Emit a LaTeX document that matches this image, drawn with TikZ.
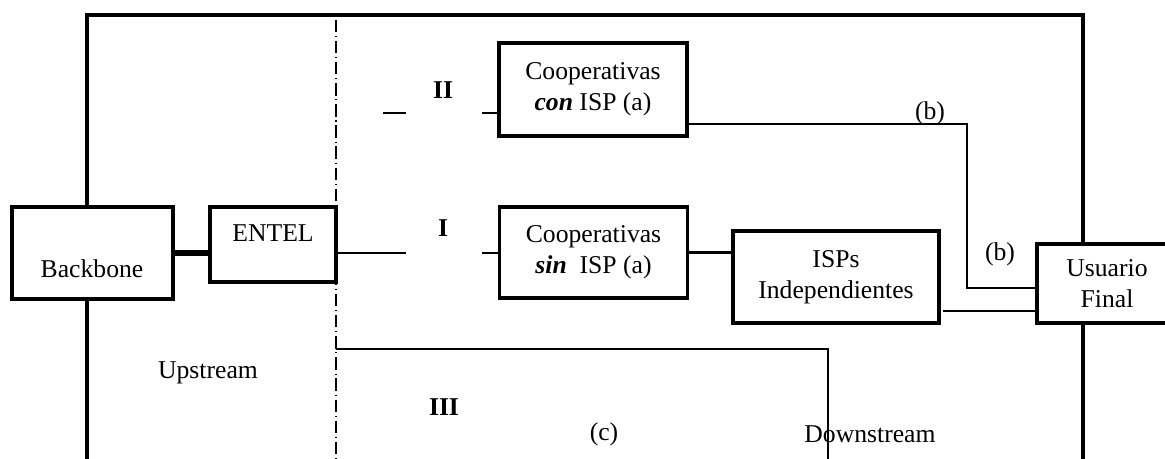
\documentclass[tikz,border=0pt]{standalone}
\usepackage{fontspec}
\setmainfont{Liberation Serif}
\begin{document}
\begin{tikzpicture}[x=0.02cm,y=-0.02cm, %Escala en pixeles
	every node/.style={font=\fontsize{14.6}{17.5}\selectfont},
	caja/.style={draw, line width=2pt, inner sep=0pt, align=center},
	marco/.style={line width=2.8pt},
	grueso/.style={line width=3.4pt},
	medio/.style={line width=1.7pt},
	fino/.style={line width=0.85pt},
	corte/.style={line width=0.8pt, dash pattern=on 7pt off 2.2pt on 0.6pt off 2.2pt}]
	\useasboundingbox (0,0) rectangle (1165,459);
		%Cajas
	\node[caja, minimum width=3.22cm, minimum height=1.84cm] (bb) at (92.5,253) {};
	\node[caja, minimum width=2.52cm, minimum height=1.5cm] (entel) at (273,244.5) {};
	\node[caja, minimum width=3.76cm, minimum height=1.86cm] (con) at (593,89.5) {Cooperativas\\\textbf{\textit{con}} ISP (a)};
	\node[caja, minimum width=3.76cm, minimum height=1.82cm] (sin) at (593.5,252.5) {Cooperativas\\\textbf{\textit{sin}}\ \ ISP (a)};
	\node[caja, minimum width=4.12cm, minimum height=1.84cm] (isp) at (836,277) {ISPs\\Independientes};
	\node[caja, minimum width=2.8cm, minimum height=1.58cm] (uf) at (1107,283.5) {Usuario\\Final};
	\node (bbtxt) at (92,269) {Backbone};
	\node (enteltxt) at (273,233) {ENTEL};
		%Marco
	\coordinate (tl) at (87,15);
	\coordinate (tr) at (1083,15);
	\draw[marco] (tl |- bb.north) -- (tl) -- (tr) -- (tr |- uf.north);
	\draw[marco] (tl |- bb.south) -- (87,459);
	\draw[marco] (tr |- uf.south) -- (1083,459);
		%Division Upstream / Downstream
	\coordinate (dtop) at (336,20);
	\draw[corte] (dtop) -- (336,459);
		%Conexiones
	\draw[grueso] (bb.east |- 0,253) -- (entel.west |- 0,253);
	\coordinate (i1) at (406,253);
	\coordinate (i2) at (482,253);
	\draw[medio] (entel.east |- i1) -- (i1);
	\draw[medio] (i2) -- (i2 -| sin.west);
	\coordinate (ii1) at (383,113);
	\coordinate (ii2) at (482,113);
	\draw[medio] (ii1) -- (406,113);
	\draw[medio] (ii2) -- (ii2 -| con.west);
	\draw[medio] (sin.east) -- (sin.east -| isp.west);
	\coordinate (b1) at (967,124);
	\draw[fino] (con.east |- b1) -- (b1) -- (967,288) -- (uf.west |- 0,288);
	\coordinate (b2) at (943,311);
	\draw[fino] (b2) -- (b2 -| uf.west);
	\coordinate (c1) at (336,349);
	\draw[fino] (c1) -- (828,349) -- (828,459);
		%Etiquetas
	\node[font=\fontsize{14.6}{17.5}\selectfont\bfseries] (lii) at (443,90) {II};
	\node[font=\fontsize{14.6}{17.5}\selectfont\bfseries] (li) at (443,228) {I};
	\node[font=\fontsize{14.6}{17.5}\selectfont\bfseries] (liii) at (444,407) {III};
	\node (lb1) at (930,113) {(b)};
	\node (lb2) at (1000,254) {(b)};
	\node (lc) at (604,434) {(c)};
	\node (up) at (208,373) {Upstream};
	\node (down) at (870,434) {Downstream};
\end{tikzpicture}
\end{document}
